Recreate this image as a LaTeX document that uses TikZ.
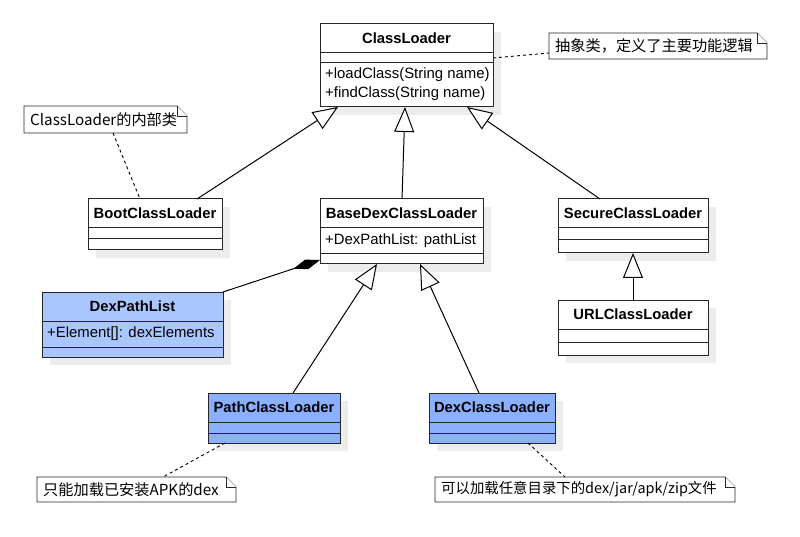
\documentclass[tikz,border=0pt]{standalone}
\usepackage{fontspec}
\setmainfont{Liberation Sans}
\newfontfamily\cjk{Noto Sans CJK SC}
\usetikzlibrary{arrows.meta,calc}
\definecolor{lightblue}{RGB}{170,198,255}
\definecolor{midblue}{RGB}{138,176,255}
\definecolor{shadowgray}{RGB}{236,236,236}
\newcommand\umlclass[8]{%
  \fill[shadowgray] (#2+8,#3+8) rectangle (#4+8,#7+8);
  \node[box, fill=#8, minimum width=#4-#2, minimum height=#7-#3] (#1) at (#2,#3) {};
  \draw[sep] (#2,#5) -- (#4,#5) (#2,#6) -- (#4,#6);
}
\newcommand\umlnote[5]{%
  \node[inner sep=0pt, outer sep=0pt, anchor=north west, minimum width=#4-#2, minimum height=#5-#3] (#1) at (#2,#3) {};
  \draw[noteline] (#1.north west) -- ($(#1.north east)+(-10,0)$) -- ($(#1.north east)+(0,10)$) -- (#1.south east) -- (#1.south west) -- cycle;
  \draw[noteline] ($(#1.north east)+(-10,0)$) -- ($(#1.north east)+(-10,10)$) -- ($(#1.north east)+(0,10)$);
}
\begin{document}
\begin{tikzpicture}[x=1pt,y=-1pt,
  box/.style={draw=black!85, line width=1pt, inner sep=0pt, outer sep=0pt, anchor=north west},
  sep/.style={draw=black!85, line width=1pt},
  noteline/.style={draw=black!85, line width=0.9pt, fill=white},
  ttl/.style={font=\fontsize{14.8}{17}\selectfont\bfseries, inner sep=0pt},
  mem/.style={font=\fontsize{14.9}{17}\selectfont, inner sep=0pt, anchor=west},
  notetext/.style={font=\cjk\fontsize{15.2}{17}\selectfont, inner sep=0pt, anchor=west},
  inh/.style={-{Triangle[open,length=25pt,width=20pt,fill=white]}, line width=1pt},
  comp/.style={{Diamond[length=28pt,width=10pt]}-, line width=1pt},
  notelink/.style={dash pattern=on 3pt off 3pt, line width=0.9pt}
]
\fill[white] (0,0) rectangle (800,537);
\useasboundingbox (0,0) rectangle (800,537);

% classes
\umlclass{cl}{320}{24}{493}{53}{63}{107}{white}
\node[ttl] (clt) at (406.5,38.5) {ClassLoader};
\node[mem] (clm1) at (325,75) {+loadClass(String name)};
\node[mem] (clm2) at (325,94) {+findClass(String name)};

\umlclass{boot}{88}{199}{222}{228}{239}{250}{white}
\node[ttl] (boott) at (155,213.5) {BootClassLoader};

\umlclass{bd}{320}{199}{483}{228}{254}{264}{white}
\node[ttl] (bdt) at (401.5,213.5) {BaseDexClassLoader};
\node[mem] (bda) at (325,241) {+DexPathList: pathList};

\umlclass{sc}{558}{199}{708}{228}{240}{253}{white}
\node[ttl] (sct) at (633,213.5) {SecureClassLoader};

\umlclass{url}{558}{300}{708}{329}{342}{355}{white}
\node[ttl] (urlt) at (633,314.5) {URLClassLoader};

\umlclass{dpl}{42}{292}{223}{321}{347}{357}{lightblue}
\node[ttl] (dplt) at (132.5,306.5) {DexPathList};
\node[mem] (dpla) at (47,334) {+Element[]: dexElements};

\umlclass{path}{208}{393}{340}{422}{433}{443}{midblue}
\node[ttl] (patht) at (274,407.5) {PathClassLoader};

\umlclass{dex}{429}{393}{555}{422}{433}{443}{midblue}
\node[ttl] (dext) at (492,407.5) {DexClassLoader};

% inheritance
\draw[inh] ($(boot.north west)+(109,0)$) -- ($(cl.south west)+(18,0)$);
\draw[inh] ($(bd.north west)+(82,0)$) -- ($(cl.south west)+(85,0)$);
\draw[inh] ($(sc.north west)+(42,0)$) -- ($(cl.south west)+(147,0)$);
\draw[inh] (url.north) -- (sc.south);
\draw[inh] ($(path.north west)+(85,0)$) -- ($(bd.south west)+(57,0)$);
\draw[inh] ($(dex.north west)+(50,0)$) -- ($(bd.south west)+(100,0)$);

% composition
\draw[comp] ($(bd.south west)+(0,-4)$) -- (dpl.north east);

% notes
\umlnote{n1}{24}{106}{187}{133}
\node[notetext] (n1t) at ($(n1.west)+(6,0)$) {ClassLoader的内部类};
\umlnote{n2}{549}{33}{767}{59}
\node[notetext] (n2t) at ($(n2.west)+(6,0)$) {抽象类，定义了主要功能逻辑};
\umlnote{n3}{37}{477}{236}{502}
\node[notetext] (n3t) at ($(n3.west)+(6,0)$) {只能加载已安装APK的dex};
\umlnote{n4}{435}{477}{735}{502}
\node[notetext, font=\cjk\fontsize{14.4}{17}\selectfont] (n4t) at ($(n4.west)+(6,0)$) {可以加载任意目录下的dex/jar/apk/zip文件};

\draw[notelink] ($(n1.south west)+(89,0)$) -- ($(boot.north west)+(52,0)$);
\draw[notelink] ($(cl.north east)+(0,34)$) -- ($(n2.north west)+(0,20)$);
\draw[notelink] ($(path.south west)+(17,0)$) -- ($(n3.north west)+(126,0)$);
\draw[notelink] ($(dex.south west)+(99,0)$) -- ($(n4.north west)+(130,0)$);
\end{tikzpicture}
\end{document}
